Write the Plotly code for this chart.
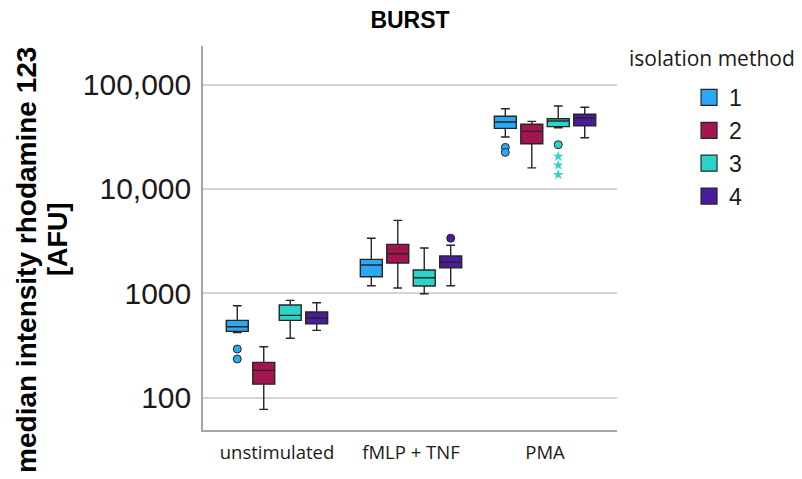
import plotly.graph_objects as go

# ---- data (log-scale y) ----
groups = ["unstimulated", "fMLP + TNF", "PMA"]
methods = ["1", "2", "3", "4"]

m1_lowerfence = [421, 1183, 31400]
m1_q1 = [432, 1443, 38000]
m1_median = [479, 1866, 43700]
m1_q3 = [551, 2117, 49600]
m1_upperfence = [760, 3365, 58600]
m1_outliers = [[293, 235], [], [25000, 22400]]

m2_lowerfence = [77.4, 1124, 15900]
m2_q1 = [135, 1950, 27100]
m2_median = [183, 2393, 35600]
m2_q3 = [218, 2947, 41600]
m2_upperfence = [308, 5003, 44400]
m2_outliers = [[], [], []]

m3_lowerfence = [371, 991, 38500]
m3_q1 = [551, 1175, 39500]
m3_median = [615, 1410, 44700]
m3_q3 = [773, 1672, 47000]
m3_upperfence = [857, 2716, 62200]
m3_outliers = [[], [], [26500]]
m3_extremes = [[], [], [20500, 16900, 13700]]

m4_lowerfence = [442, 1183, 30900]
m4_q1 = [511, 1758, 40300]
m4_median = [580, 1982, 47800]
m4_q3 = [662, 2277, 51900]
m4_upperfence = [813, 2884, 60500]
m4_outliers = [[], [3374], []]

y_tickvals = [100, 1000, 10000, 100000]
y_ticktext = ["100", "1000", "10,000", "100,000"]

colors = ["#2AA8F4", "#A3154F", "#29D5CA", "#4A1B9C"]
outline = "#262626"

stats = [
    (m1_lowerfence, m1_q1, m1_median, m1_q3, m1_upperfence, m1_outliers),
    (m2_lowerfence, m2_q1, m2_median, m2_q3, m2_upperfence, m2_outliers),
    (m3_lowerfence, m3_q1, m3_median, m3_q3, m3_upperfence, m3_outliers),
    (m4_lowerfence, m4_q1, m4_median, m4_q3, m4_upperfence, m4_outliers),
]

# grouped layout of the boxes inside each category
group_pos = list(range(len(groups)))
box_gap = 0.21
slot = (1 - box_gap) / len(methods)
box_width = slot * 0.83


def offset(k):
    return (k - (len(methods) - 1) / 2) * slot


def point_coords(k, values_per_group):
    xs, ys = [], []
    for g, vals in zip(group_pos, values_per_group):
        for v in vals:
            xs.append(g + offset(k))
            ys.append(v)
    return xs, ys


fig = go.Figure()
for k, (name, col, (lf, q1, med, q3, uf, outl)) in enumerate(zip(methods, colors, stats)):
    fig.add_trace(go.Box(
        x=[g + offset(k) for g in group_pos],
        q1=q1, median=med, q3=q3, lowerfence=lf, upperfence=uf,
        width=box_width, name=name, legendgroup=name, showlegend=False,
        fillcolor=col, line=dict(color=outline, width=1.4),
        whiskerwidth=0.4, hoverinfo="y",
    ))
    ox, oy = point_coords(k, outl)
    if ox:
        fig.add_trace(go.Scatter(
            x=ox, y=oy, mode="markers", name=name, legendgroup=name,
            showlegend=False,
            marker=dict(color=col, size=8, line=dict(color=outline, width=1)),
        ))

sx, sy = point_coords(2, m3_extremes)
fig.add_trace(go.Scatter(
    x=sx, y=sy, mode="markers", name="3", legendgroup="3", showlegend=False,
    marker=dict(color=colors[2], symbol="star", size=8, line=dict(width=0)),
))

# legend entries
for name, col in zip(methods, colors):
    fig.add_trace(go.Scatter(
        x=[None], y=[None], mode="markers", name=name, legendgroup=name,
        marker=dict(symbol="square", size=24, color=col,
                    line=dict(color=outline, width=1.2)),
    ))

fig.update_layout(
    width=794, height=471,
    margin=dict(l=195, r=185, t=38, b=49),
    paper_bgcolor="white", plot_bgcolor="white",
    boxmode="overlay",
    title=dict(text="<b>BURST</b>", x=0.5, xref="paper", xanchor="center",
               y=0.974, yanchor="middle",
               font=dict(family="Liberation Sans, Arial", size=23, color="#000")),
    font=dict(family="Liberation Sans, Arial", color="#1a1a1a"),
    showlegend=True,
    legend=dict(x=1.174, xanchor="left", y=0.922, yanchor="top",
                font=dict(family="Liberation Sans, Arial", size=23, color="#1a1a1a"),
                tracegroupgap=0, itemsizing="trace", bgcolor="rgba(0,0,0,0)"),
    annotations=[
        dict(text="isolation method", xref="paper", yref="paper",
             x=1.229, y=0.969, xanchor="center", yanchor="middle",
             showarrow=False,
             font=dict(family="Open Sans", size=21, color="#1a1a1a")),
        dict(text="<b>median intensity rhodamine 123</b>", textangle=-90,
             xref="paper", yref="paper", x=-0.425, y=0.443,
             xanchor="center", yanchor="middle", showarrow=False,
             font=dict(family="Liberation Sans, Arial", size=28, color="#000")),
        dict(text="<b>[AFU]</b>", textangle=-90,
             xref="paper", yref="paper", x=-0.35, y=0.495,
             xanchor="center", yanchor="middle", showarrow=False,
             font=dict(family="Liberation Sans, Arial", size=27, color="#000")),
    ],
)

fig.update_xaxes(
    range=[-0.552, 2.537],
    tickvals=group_pos, ticktext=groups,
    showline=True, linecolor="#a6a6a6", linewidth=1.5,
    showgrid=False, zeroline=False, ticks="", ticklabelstandoff=5,
    tickfont=dict(family="Open Sans", size=18.5, color="#1a1a1a"),
)
fig.update_yaxes(
    type="log", range=[1.691, 5.369],
    tickvals=y_tickvals, ticktext=y_ticktext,
    showline=True, linecolor="#a6a6a6", linewidth=1.5,
    showgrid=True, gridcolor="#d4d4d4", gridwidth=1.5,
    zeroline=False, ticks="", ticklabelstandoff=4,
    tickfont=dict(family="Liberation Sans, Arial", size=30, color="#1a1a1a"),
)

fig.write_html("out.html")
